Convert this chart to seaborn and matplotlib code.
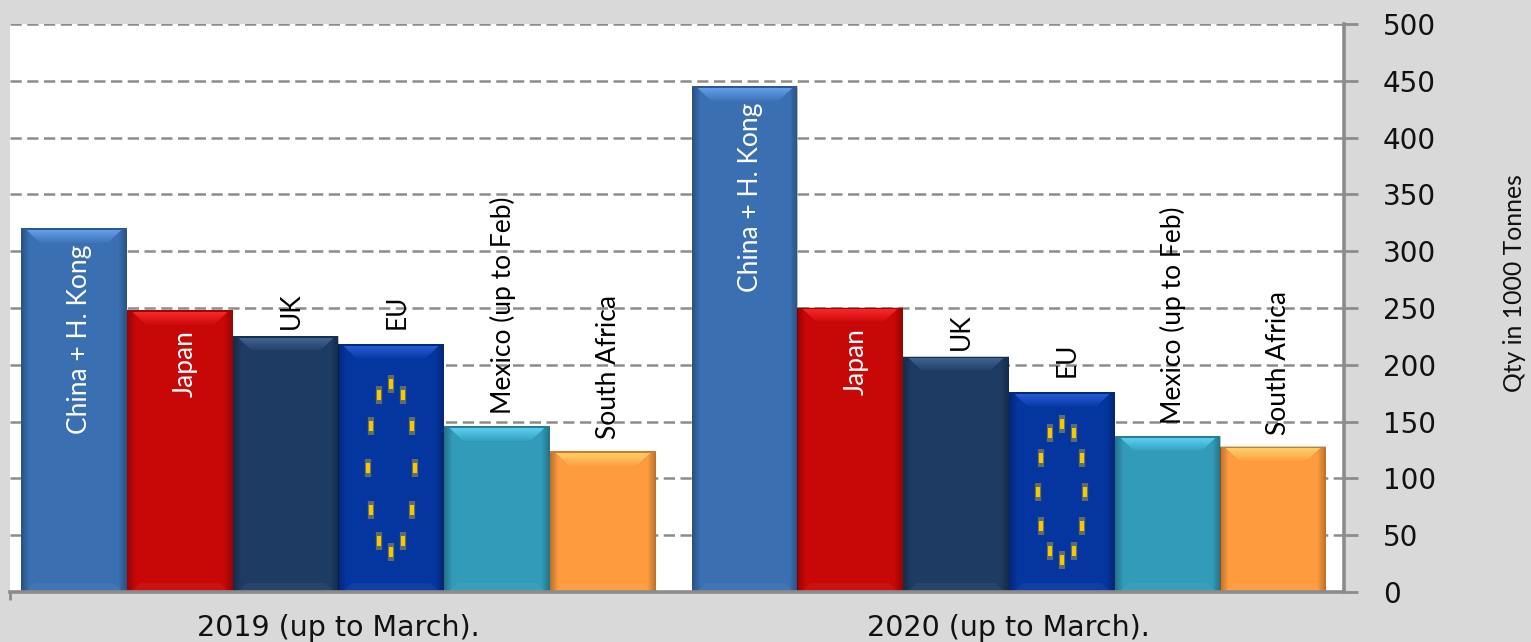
import numpy as np
import pandas as pd
import matplotlib
matplotlib.use("Agg")
import matplotlib.pyplot as plt
from matplotlib.colors import to_rgb
import seaborn as sns

periods = ["2019 (up to March).", "2020 (up to March)."]
countries = ["China + H. Kong", "Japan", "UK", "EU", "Mexico (up to Feb)", "South Africa"]
values_2019 = [320, 248, 225, 218, 146, 124]
values_2020 = [445, 250, 207, 176, 137, 128]
colors = ["#3A6FB2", "#C80707", "#1D3B63", "#05359E", "#329BB9", "#FD9B3E"]
label_inside = [True, True, False, False, False, False]
label_colors = ["white", "white", "black", "black", "black", "black"]
label_gap = [16, 20, 7, 15, 12, 12]
y_ticks = list(range(0, 501, 50))
y_title = "Qty in 1000 Tonnes"

df = pd.DataFrame({
    "period": [periods[0]] * 6 + [periods[1]] * 6,
    "country": countries * 2,
    "qty": values_2019 + values_2020,
})

narrow = "Lato"

sns.set_theme(style="white")
BG = "#D9D9D9"
GR = "#8C8C8C"
fig = plt.figure(figsize=(15.31, 6.42), dpi=100, facecolor=BG)
W, H = 1531, 642
ax = fig.add_axes([10 / W, 1 - 592 / H, (1344 - 10) / W, (592 - 24) / H], facecolor="white")

sns.barplot(data=df, x="period", y="qty", hue="country", hue_order=countries,
            order=periods, palette=colors, saturation=1, width=0.946, gap=0,
            legend=False, ax=ax, zorder=3, linewidth=0)
ax.set_xlim(-0.49, 1.5)
ax.set_ylim(0, 500)
xlim, ylim = ax.get_xlim(), ax.get_ylim()

ax.yaxis.tick_right()
ax.yaxis.set_label_position("right")
ax.set_yticks(y_ticks)
ax.set_yticklabels([str(v) for v in y_ticks], fontsize=20, color="#111111", family="DejaVu Sans")
ax.tick_params(axis="y", length=10, width=2, color=GR, pad=18, right=True, left=False)
ax.grid(axis="y", color=GR, linestyle=(0, (4.5, 2.2)), linewidth=1.8, zorder=1)
ax.grid(axis="x", visible=False)
ax.set_axisbelow(True)
ax.set_xlabel("")
ax.set_ylabel("")
ax.tick_params(axis="x", length=0, pad=16)
for t in ax.get_xticklabels():
    t.set_fontsize(20.5)
    t.set_color("#111111")
    t.set_family("DejaVu Sans")
ax.set_xticks([xlim[0]], minor=True)
ax.tick_params(axis="x", which="minor", length=6, width=2, color=GR, bottom=True)
for side in ("top", "left"):
    ax.spines[side].set_visible(False)
for side in ("right", "bottom"):
    ax.spines[side].set_color(GR)
    ax.spines[side].set_linewidth(2.6)
    ax.spines[side].set_zorder(6)

fig.text(1515 / W, 1 - 283 / H, y_title, rotation=90, ha="center", va="center",
         fontsize=17.8, color="#111111", family=narrow)

px_x = (xlim[1] - xlim[0]) / 1334
px_y = (ylim[1] - ylim[0]) / 568


def bevel(h, w, base):
    """RGBA shading overlay for a bar of h x w pixels."""
    base = np.array(to_rgb(base))
    hi = np.clip(base * 1.15 + 0.14, 0, 1)
    img = np.zeros((h, w, 4))
    yy, xx = np.mgrid[0:h, 0:w]
    dist_side = np.minimum(xx, w - 1 - xx)
    img[..., 3] = np.clip(1 - dist_side / 8, 0, 1) * 0.26
    mask = (yy >= 2) & (yy < 15) & (dist_side >= (yy + 4))
    fade = np.clip(1 - (yy - 2) / 13, 0, 1)
    img[mask, 0], img[mask, 1], img[mask, 2] = hi[0], hi[1], hi[2]
    img[mask, 3] = 0.85 * fade[mask] + 0.05
    img[:2, :, :3] = 0
    img[:2, :, 3] = 0.2
    bot = (h - 1 - yy < 9) & (dist_side >= (h - 1 - yy + 5))
    img[bot, :3] = 1.0
    img[bot, 3] = 0.05
    return img


bars = sorted([b for b in ax.patches if b.get_height() > 0], key=lambda b: b.get_x())
for i, b in enumerate(bars):
    k = i % 6
    label, col = countries[k], label_colors[k]
    x0, wid, hgt = b.get_x(), b.get_width(), b.get_height()
    cx = x0 + wid / 2
    ax.imshow(bevel(max(int(hgt / px_y), 20), max(int(wid / px_x), 20), colors[k]),
              extent=(x0, x0 + wid, 0, hgt), aspect="auto", zorder=4,
              interpolation="bilinear")
    gap = label_gap[k] * 0.72
    if label_inside[k]:
        ax.annotate(label, (cx, hgt), xytext=(4, -gap), textcoords="offset points",
                    rotation=90, ha="center", va="top", fontsize=19, color=col,
                    family=narrow, zorder=5)
    else:
        ax.annotate(label, (cx, hgt), xytext=(4, gap), textcoords="offset points",
                    rotation=90, ha="center", va="bottom", fontsize=19, color=col,
                    family=narrow, zorder=5)
    if label == "EU":
        ang = np.arange(12) * np.pi / 6
        sx = cx + 0.225 * wid * np.sin(ang)
        sy = hgt * (0.5 + 0.34 * np.cos(ang))
        ax.scatter(sx, sy, marker="|", s=170, linewidths=4.5, color="#A89A40", alpha=0.55, zorder=5)
        ax.scatter(sx, sy, marker="|", s=45, linewidths=3, color="#F5C800", zorder=5)

ax.set_xlim(xlim)
ax.set_ylim(ylim)
ax.set_aspect("auto")
fig.savefig("out.png", dpi=100, facecolor=BG)
